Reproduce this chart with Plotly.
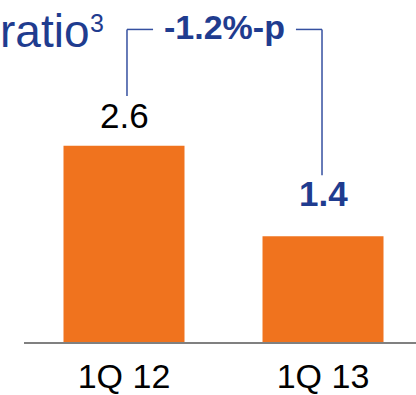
import plotly.graph_objects as go

# Quarterly ratio values
quarters = ["1Q 12", "1Q 13"]
ratios = [2.6, 1.4]
label_texts = ["2.6", "<b>1.4</b>"]
change_text = "<b>-1.2%-p</b>"
heading = "ratio"
heading_note = "3"

FONT = "Liberation Sans, Arial, sans-serif"
ORANGE = "#F0731E"
NAVY = "#1F3C8F"
BRACKET = "#3550A0"

W, H = 416, 395
ML, MB = 24, 51
PLOT_W = W - ML
PLOT_H = H - MB

x_range = [-0.5025, 1.4673]
y_range = [0, 4.53]


def px_x(p):
    return (p - ML) / PLOT_W


def px_y(p):
    return 1 - p / PLOT_H


fig = go.Figure()
fig.add_trace(go.Bar(
    x=[0, 1],
    y=ratios,
    width=0.608,
    marker=dict(color=ORANGE, line=dict(width=0)),
    hoverinfo="skip",
))

# value labels above the bars
label_colors = ["#000000", NAVY]
label_shifts = [23, 35]
for i, (v, t) in enumerate(zip(ratios, label_texts)):
    fig.add_annotation(
        x=i, y=v, xref="x", yref="y", text=t, showarrow=False,
        xanchor="center", yanchor="bottom", yshift=label_shifts[i] - 14,
        font=dict(family=FONT, size=35, color=label_colors[i]),
    )

# bracket showing the change between quarters
y_top = 4.14
left_x, right_x = 0.015, 0.995
fig.add_shape(type="line", xref="x", yref="y", x0=left_x, x1=left_x,
              y0=3.26, y1=y_top, line=dict(color=BRACKET, width=1.5))
fig.add_shape(type="line", xref="x", yref="y", x0=left_x, x1=0.146,
              y0=y_top, y1=y_top, line=dict(color=BRACKET, width=1.5))
fig.add_shape(type="line", xref="x", yref="y", x0=0.864, x1=right_x,
              y0=y_top, y1=y_top, line=dict(color=BRACKET, width=1.5))
fig.add_shape(type="line", xref="x", yref="y", x0=right_x, x1=right_x,
              y0=2.21, y1=y_top, line=dict(color=BRACKET, width=1.5))
fig.add_annotation(
    x=0.505, y=y_top, xref="x", yref="y", text=change_text, showarrow=False,
    xanchor="center", yanchor="middle", yshift=2,
    font=dict(family=FONT, size=34, color=NAVY),
)

# heading text with its footnote marker
fig.add_annotation(
    x=px_x(0), y=px_y(30.7), xref="paper", yref="paper", text=heading,
    showarrow=False, xanchor="left", yanchor="middle",
    borderpad=0, borderwidth=0,
    font=dict(family=FONT, size=46, color=NAVY),
)
fig.add_annotation(
    x=px_x(90), y=px_y(23.5), xref="paper", yref="paper", text=heading_note,
    showarrow=False, xanchor="left", yanchor="middle",
    borderpad=0, borderwidth=0,
    font=dict(family=FONT, size=25, color=NAVY),
)

fig.update_layout(
    width=W, height=H,
    margin=dict(l=ML, r=0, t=0, b=MB, pad=0),
    paper_bgcolor="white", plot_bgcolor="white",
    showlegend=False,
    xaxis=dict(
        range=x_range, tickmode="array", tickvals=[0, 1], ticktext=quarters,
        showgrid=False, zeroline=False, showline=True,
        linecolor="#808080", linewidth=2, ticks="",
        ticklabelstandoff=3,
        tickfont=dict(family=FONT, size=34, color="#000000"),
        fixedrange=True,
    ),
    yaxis=dict(range=y_range, visible=False, fixedrange=True),
)

fig.write_html("out.html")
